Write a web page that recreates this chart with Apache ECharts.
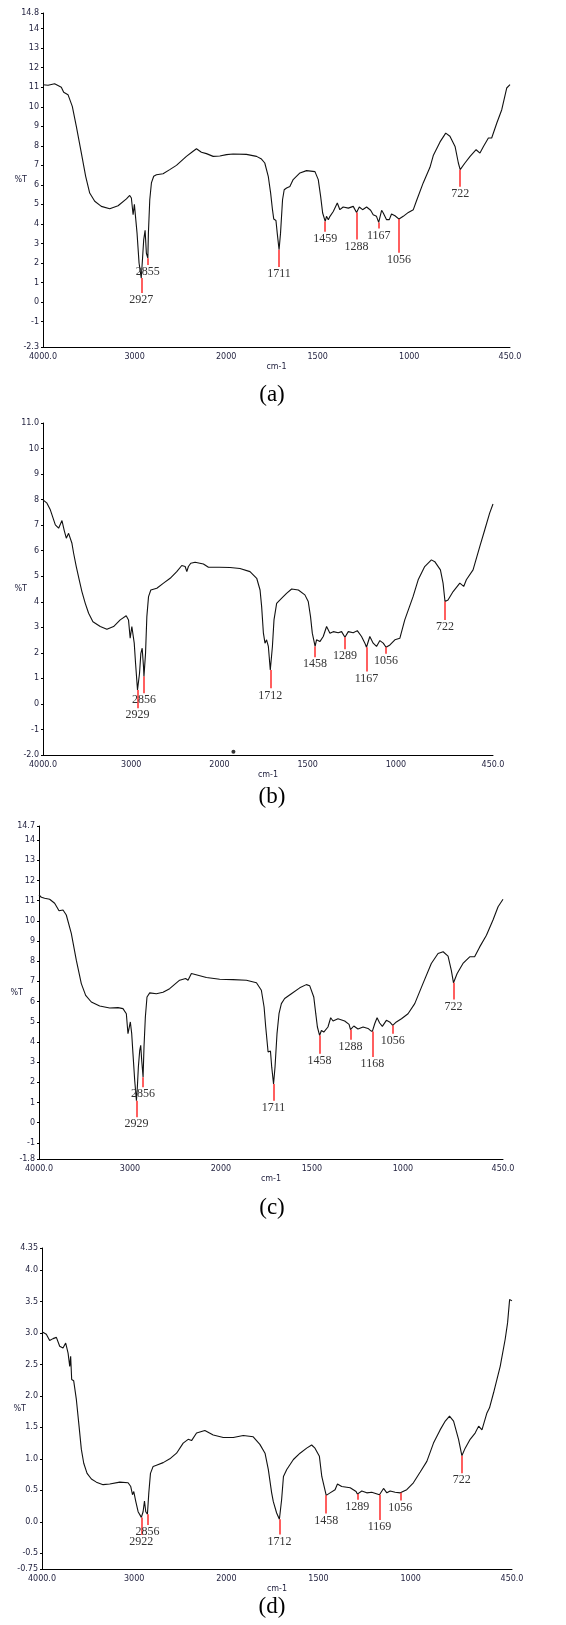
<!DOCTYPE html>
<html>
<head>
<meta charset="utf-8">
<script src="https://cdn.jsdelivr.net/npm/echarts@6/dist/echarts.min.js"></script>
<style>
  html, body { margin: 0; padding: 0; background: #fff; }
  #chart { width: 566px; height: 1625px; }
</style>
</head>
<body>
<div id="chart"></div>
<script>
// FTIR spectra: wavenumber (cm-1) and %T

// x tick marks (the axis doubles its scale below 2000 cm-1)
const xTickWaves = [4000, 3000, 2000, 1500, 1000, 450];
const xTickLabels = ['4000.0', '3000', '2000', '1500', '1000', '450.0'];

// (a)
const waveA = [4000,3945,3873,3800,3774,3727,3680,3636,3581,3534,
  3490,3435,3363,3271,3180,3089,3053,3035,3016,3002,
  2991,2973,2951,2927,2914,2900,2885,2871,2855,2849,
  2834,2816,2791,2761,2689,2616,2543,2434,2361,2324,
  2270,2215,2142,2069,1998,1962,1889,1834,1807,1789,
  1770,1757,1747,1740,1728,1721,1711,1703,1692,1683,
  1670,1652,1634,1597,1561,1515,1497,1484,1473,1459,
  1452,1442,1433,1415,1393,1379,1361,1333,1306,1288,
  1273,1255,1233,1211,1197,1179,1167,1151,1142,1124,
  1109,1097,1078,1056,1033,1005,978,960,924,887,
  869,832,801,778,750,732,722,696,668,635,
  614,595,568,550,522,495,468,450];
const transA = [11.13,11.10,11.18,11.0,10.74,10.62,10.02,9.0,7.63,6.44,
  5.58,5.16,4.90,4.78,4.93,5.28,5.46,5.33,4.47,5.0,
  5.04,3.53,2.0,1.23,2.17,3.2,3.67,2.5,2.25,3.53,
  5.24,6.1,6.44,6.52,6.57,6.78,7.0,7.46,7.72,7.85,
  7.67,7.6,7.46,7.48,7.55,7.58,7.56,7.46,7.32,7.12,
  6.44,5.58,4.73,4.25,4.18,3.53,2.68,3.53,5.24,5.75,
  5.84,5.92,6.27,6.61,6.73,6.68,6.27,5.41,4.56,4.13,
  4.39,4.22,4.39,4.64,5.07,4.73,4.87,4.81,4.9,4.59,
  4.87,4.73,4.87,4.7,4.47,4.39,4.08,4.7,4.56,4.22,
  4.22,4.51,4.42,4.25,4.39,4.59,4.73,5.2,6.1,6.9,
  7.5,8.2,8.65,8.49,7.97,7.12,6.78,7.12,7.46,7.8,
  7.63,7.97,8.4,8.4,9.17,9.85,10.96,11.13];
const peaksA = [2927, 2855, 1711, 1459, 1288, 1167, 1056, 722];
const peakTopA = [1.23, 2.25, 2.68, 4.13, 4.59, 4.08, 4.25, 6.78];
const peakEndA = [0.46, 1.9, 1.8, 3.6, 3.2, 3.77, 2.53, 5.91];
const yLabelsA = ['-2.3','-1','0','1','2','3','4','5','6','7','8','9','10','11','12','13','14','14.8'];

// (b)
const waveB = [4000,3955,3917,3860,3823,3785,3759,3736,3710,3691,
  3672,3653,3623,3585,3559,3521,3483,3434,3351,3276,
  3200,3125,3057,3031,3012,2993,2982,2966,2951,2929,
  2906,2891,2876,2861,2856,2838,2823,2804,2778,2710,
  2634,2559,2484,2427,2389,2370,2352,2325,2276,2182,
  2125,2005,1940,1884,1827,1789,1770,1761,1751,1742,
  1733,1723,1712,1700,1691,1676,1657,1620,1591,1553,
  1516,1497,1484,1474,1458,1450,1431,1412,1393,1374,
  1355,1327,1308,1289,1270,1242,1219,1195,1176,1167,
  1148,1129,1110,1091,1072,1056,1034,1006,978,950,
  903,874,837,799,780,748,733,722,705,676,
  638,616,601,563,525,497,469,450];
const transB = [7.99,7.86,7.6,7.01,6.88,7.18,6.79,6.49,6.68,6.62,
  6.29,5.9,5.38,4.79,4.4,3.94,3.55,3.22,3.03,2.92,
  3.03,3.29,3.45,3.29,2.57,3.03,3.05,2.38,1.59,0.55,
  1.2,1.98,2.18,1.46,1.07,1.98,3.42,4.2,4.46,4.53,
  4.73,4.92,5.18,5.42,5.38,5.18,5.38,5.51,5.55,5.48,
  5.35,5.35,5.34,5.3,5.18,4.92,4.46,3.81,2.77,2.38,
  2.51,2.25,1.33,2.25,3.29,3.94,4.07,4.33,4.5,4.46,
  4.27,4.01,3.42,2.77,2.25,2.51,2.44,2.64,3.03,2.77,
  2.83,2.79,2.83,2.61,2.83,2.79,2.87,2.64,2.38,2.22,
  2.64,2.38,2.25,2.48,2.38,2.22,2.31,2.51,2.57,3.29,
  4.2,4.86,5.38,5.64,5.57,5.25,4.73,4.01,4.07,4.4,
  4.73,4.6,4.86,5.25,6.16,6.81,7.47,7.83];
const peaksB = [2929, 2856, 1712, 1458, 1289, 1167, 1056, 722];
const peakTopB = [0.55, 1.07, 1.33, 2.25, 2.61, 2.22, 2.22, 4.01];
const peakEndB = [-0.17, 0.42, 0.61, 1.83, 2.14, 1.27, 1.96, 3.29];
const yLabelsB = ['-2.0','-1','0','1','2','3','4','5','6','7','8','9','10','11.0'];
// stray dot near the baseline of (b)
const strayWaveB = [1921];
const strayTransB = [-1.87];

// (c)
const waveC = [4000,3974,3938,3883,3828,3780,3736,3700,3645,3590,
  3535,3487,3425,3333,3223,3132,3077,3040,3022,3011,
  2996,2981,2967,2948,2929,2919,2908,2893,2882,2871,
  2856,2846,2831,2813,2783,2710,2637,2564,2454,2388,
  2362,2325,2307,2160,2014,1934,1860,1805,1778,1763,
  1754,1741,1728,1721,1711,1703,1692,1681,1668,1650,
  1613,1567,1531,1512,1490,1479,1470,1458,1448,1435,
  1412,1397,1384,1357,1320,1296,1288,1270,1247,1219,
  1192,1179,1168,1155,1142,1128,1113,1091,1073,1056,
  1036,1008,972,935,890,844,807,779,752,734,
  722,702,670,633,606,578,541,505,477,450];
const transC = [11.28,11.17,11.12,11.07,10.87,10.5,10.54,10.29,9.38,8.05,
  6.89,6.31,5.98,5.78,5.68,5.7,5.65,5.4,4.41,4.32,
  4.99,4.41,3.41,2.09,1.09,1.76,2.75,3.58,3.83,3.08,
  2.25,3.74,5.24,6.23,6.43,6.39,6.46,6.64,7.06,7.14,
  7.06,7.39,7.36,7.19,7.11,7.09,7.06,6.93,6.56,5.73,
  4.74,3.5,3.55,2.75,1.92,2.75,4.41,5.4,5.9,6.15,
  6.39,6.68,6.84,6.78,6.23,5.4,4.74,4.32,4.57,4.49,
  4.74,5.2,5.04,5.15,5.04,4.87,4.61,4.79,4.64,4.74,
  4.67,4.57,4.52,4.9,5.2,4.94,4.77,5.07,4.99,4.82,
  4.99,5.15,5.4,5.9,6.89,7.89,8.38,8.47,8.25,7.55,
  6.93,7.39,7.89,8.22,8.22,8.71,9.29,10.04,10.7,11.07];
const peaksC = [2929, 2856, 1711, 1458, 1288, 1168, 1056, 722];
const peakTopC = [1.09, 2.25, 1.92, 4.32, 4.61, 4.52, 4.82, 6.93];
const peakEndC = [0.27, 1.76, 1.09, 3.41, 4.11, 3.25, 4.41, 6.1];
const yLabelsC = ['-1.8','-1','0','1','2','3','4','5','6','7','8','9','10','11','12','13','14','14.7'];

// (d)
const waveD = [4000,3953,3917,3880,3844,3808,3772,3743,3717,3699,
  3689,3678,3656,3627,3598,3573,3547,3511,3464,3410,
  3337,3265,3156,3066,3037,3018,3004,2982,2957,2922,
  2903,2888,2874,2856,2841,2823,2794,2758,2685,2613,
  2540,2468,2414,2377,2323,2233,2142,2033,1962,1908,
  1854,1818,1790,1772,1754,1745,1736,1727,1712,1700,
  1690,1672,1636,1600,1564,1537,1519,1495,1482,1458,
  1437,1410,1397,1374,1328,1296,1289,1265,1238,1211,
  1169,1147,1129,1111,1084,1056,1021,985,948,912,
  876,840,812,789,767,740,722,704,677,650,
  631,613,586,572,550,514,487,474,463,450];
const transD = [3.02,2.98,2.88,2.91,2.93,2.79,2.76,2.84,2.68,2.47,
  2.63,2.26,2.24,1.94,1.52,1.15,0.93,0.77,0.68,0.63,
  0.59,0.6,0.63,0.62,0.56,0.43,0.48,0.32,0.16,0.07,
  0.16,0.33,0.16,0.12,0.46,0.77,0.88,0.9,0.94,1.0,
  1.09,1.25,1.31,1.29,1.41,1.45,1.38,1.34,1.34,1.37,
  1.35,1.23,1.09,0.83,0.46,0.32,0.3,0.14,0.04,0.35,
  0.72,0.83,0.99,1.09,1.17,1.22,1.17,1.04,0.72,0.42,
  0.46,0.51,0.6,0.56,0.54,0.48,0.44,0.49,0.46,0.47,
  0.43,0.53,0.46,0.49,0.47,0.46,0.51,0.62,0.79,0.96,
  1.25,1.46,1.6,1.68,1.6,1.31,1.05,1.17,1.31,1.41,
  1.52,1.46,1.73,1.81,2.05,2.47,2.9,3.16,3.53,3.51];
const peaksD = [2922, 2856, 1712, 1458, 1289, 1169, 1056, 722];
const peakTopD = [0.07, 0.12, 0.04, 0.42, 0.44, 0.43, 0.46, 1.05];
const peakEndD = [-0.21, -0.05, -0.2, 0.13, 0.35, 0.03, 0.34, 0.77];
const yLabelsD = ['-0.75','-0.5','0.0','0.5','1.0','1.5','2.0','2.5','3.0','3.5','4.0','4.35'];

// axis position: 4000-2000 at one scale, 2000-450 at double scale
const toU = w => (w >= 2000 ? 4000 - w : 2000 + 2 * (2000 - w));
const xTickU = xTickWaves.map(toU);

const panels = [
  { wave: waveA, trans: transA, peaks: peaksA, top: peakTopA, end: peakEndA, yLabels: yLabelsA,
    box: { left: 43, top: 13, width: 467, height: 334 }, caption: '(a)', captionY: 395 },
  { wave: waveB, trans: transB, peaks: peaksB, top: peakTopB, end: peakEndB, yLabels: yLabelsB,
    box: { left: 43, top: 423, width: 450, height: 332 }, caption: '(b)', captionY: 797 },
  { wave: waveC, trans: transC, peaks: peaksC, top: peakTopC, end: peakEndC, yLabels: yLabelsC,
    box: { left: 39, top: 826, width: 464, height: 333 }, caption: '(c)', captionY: 1208 },
  { wave: waveD, trans: transD, peaks: peaksD, top: peakTopD, end: peakEndD, yLabels: yLabelsD,
    box: { left: 42, top: 1248, width: 470, height: 321 }, caption: '(d)', captionY: 1607 }
];

const axisColor = '#000';
const tickTextColor = '#1e1e3c';
const sans = 'DejaVu Sans';
const serif = 'Liberation Serif';

const grid = [], xAxis = [], yAxis = [], series = [], graphic = [];

panels.forEach((p, i) => {
  const yVals = p.yLabels.map(parseFloat);

  grid.push(Object.assign({ outerBoundsMode: 'none', containLabel: false }, p.box));

  xAxis.push({
    gridIndex: i,
    type: 'value',
    min: 0,
    max: toU(450),
    axisLine: { show: true, onZero: false, lineStyle: { color: axisColor, width: 1 } },
    axisTick: { show: false },
    splitLine: { show: false },
    axisLabel: {
      customValues: xTickU,
      formatter: v => {
        let k = 0;
        xTickU.forEach((u, j) => { if (Math.abs(u - v) < Math.abs(xTickU[k] - v)) k = j; });
        return xTickLabels[k];
      },
      fontFamily: sans, fontSize: 8, color: tickTextColor, margin: 6
    },
    name: 'cm-1',
    nameLocation: 'middle',
    nameGap: 16,
    nameMoveOverlap: false,
    nameTextStyle: { fontFamily: sans, fontSize: 8, color: tickTextColor }
  });

  yAxis.push({
    gridIndex: i,
    type: 'value',
    min: yVals[0],
    max: yVals[yVals.length - 1],
    axisLine: { show: true, onZero: false, lineStyle: { color: axisColor, width: 1 } },
    axisTick: { show: true, customValues: yVals, length: 2, lineStyle: { color: axisColor } },
    splitLine: { show: false },
    axisLabel: {
      customValues: yVals,
      formatter: v => {
        let k = 0;
        yVals.forEach((y, j) => { if (Math.abs(y - v) < Math.abs(yVals[k] - v)) k = j; });
        return p.yLabels[k];
      },
      fontFamily: sans, fontSize: 8, color: tickTextColor, margin: 4
    },
    name: '%T',
    nameLocation: 'middle',
    nameRotate: 0,
    nameGap: 16,
    nameMoveOverlap: false,
    nameTextStyle: { fontFamily: sans, fontSize: 8, color: tickTextColor, padding: [14, 0, 0, 0] }
  });

  series.push({
    type: 'line',
    xAxisIndex: i,
    yAxisIndex: i,
    data: p.wave.map((w, k) => [toU(w), p.trans[k]]),
    showSymbol: false,
    symbol: 'none',
    silent: true,
    animation: false,
    lineStyle: { color: '#111', width: 1.1 },
    markLine: {
      silent: true,
      animation: false,
      symbol: ['none', 'none'],
      lineStyle: { color: '#ff2a2a', width: 1.5, type: 'solid' },
      emphasis: { disabled: true },
      label: {
        show: true,
        position: 'end',
        distance: 1,
        formatter: prm => prm.name,
        fontFamily: serif,
        fontSize: 12,
        color: '#333'
      },
      data: p.peaks.map((w, k) => [
        { name: String(w), coord: [toU(w), p.top[k]] },
        { name: String(w), coord: [toU(w), p.end[k]] }
      ])
    }
  });

  graphic.push({
    type: 'text',
    x: 272,
    y: p.captionY,
    style: {
      text: p.caption,
      fontFamily: serif,
      fontSize: 23,
      fill: '#000',
      align: 'center',
      verticalAlign: 'middle'
    }
  });
});

series.push({
  type: 'scatter',
  xAxisIndex: 1,
  yAxisIndex: 1,
  data: strayWaveB.map((w, k) => [toU(w), strayTransB[k]]),
  symbolSize: 4,
  itemStyle: { color: '#000' },
  silent: true,
  animation: false
});

const chart = echarts.init(document.getElementById('chart'), null, { renderer: 'canvas' });
chart.setOption({
  backgroundColor: '#fff',
  animation: false,
  grid: grid,
  xAxis: xAxis,
  yAxis: yAxis,
  series: series,
  graphic: graphic
});
</script>
</body>
</html>
